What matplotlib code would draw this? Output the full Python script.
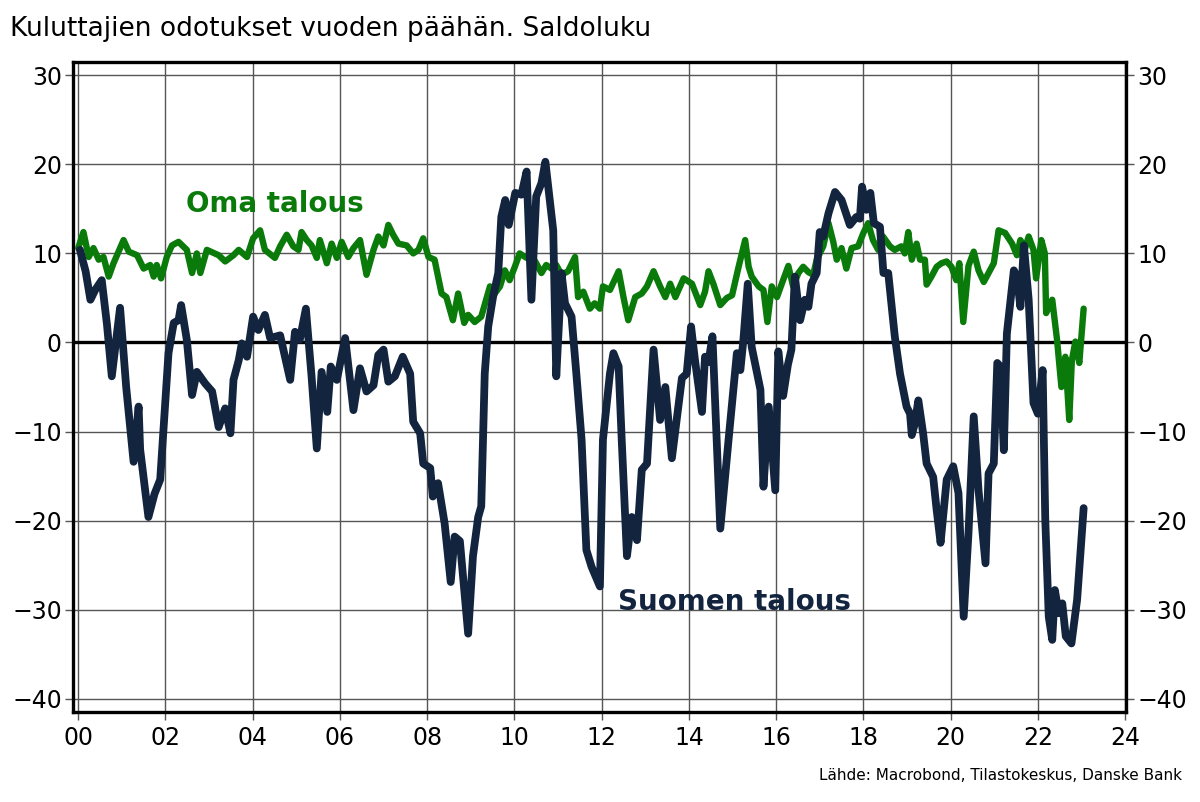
import numpy as np
import matplotlib.pyplot as plt

# Suomen talous (navy), decimal year / balance
suomi_t = [0.04, 0.17, 0.28, 0.39, 0.54, 0.66, 0.77, 0.96, 1.10, 1.27, 1.385, 1.42, 1.61, 1.75, 1.88,
           2.07, 2.19, 2.30, 2.36, 2.49, 2.61, 2.72, 2.91, 3.07, 3.22, 3.37, 3.49, 3.56, 3.68, 3.75, 3.87,
           4.01, 4.13, 4.28, 4.40, 4.63, 4.86, 4.97, 5.08, 5.22, 5.35, 5.47, 5.58, 5.71, 5.79, 5.93,
           6.12, 6.31, 6.46, 6.61, 6.77, 6.88, 7.00, 7.11, 7.26, 7.44, 7.61, 7.68, 7.84, 7.91,
           8.07, 8.13, 8.25, 8.40, 8.54, 8.63, 8.75, 8.94, 9.05, 9.17, 9.24, 9.32, 9.40, 9.51, 9.63,
           9.70, 9.79, 9.87, 10.02, 10.16, 10.28, 10.39, 10.50, 10.62, 10.71, 10.89, 10.96, 11.08,
           11.16, 11.31, 11.42, 11.54, 11.65, 11.77, 11.96, 12.03, 12.11, 12.19, 12.27, 12.39, 12.46,
           12.58, 12.69, 12.81, 12.92, 13.04, 13.19, 13.34, 13.46, 13.61, 13.72, 13.84, 13.95, 14.05,
           14.14, 14.30, 14.37, 14.45, 14.54, 14.72, 14.91, 15.10, 15.18, 15.25, 15.35, 15.44, 15.64,
           15.71, 15.83, 15.98, 16.05, 16.16, 16.27, 16.35, 16.43, 16.55, 16.66, 16.74, 16.81, 16.93,
           17.00, 17.08, 17.20, 17.35, 17.50, 17.69, 17.84, 17.92, 17.97, 18.07, 18.16, 18.24, 18.38,
           18.46, 18.57, 18.72, 18.84, 18.99, 19.07, 19.11, 19.18, 19.26, 19.37, 19.45, 19.60, 19.68,
           19.77, 19.91, 20.06, 20.18, 20.30, 20.41, 20.53, 20.64, 20.80, 20.87, 20.99, 21.07, 21.14,
           21.22, 21.29, 21.45, 21.52, 21.60, 21.68, 21.79, 21.90, 22.00, 22.11, 22.17, 22.25, 22.33,
           22.39, 22.48, 22.56, 22.64, 22.77, 22.90, 23.05]
suomi_v = [10.4, 8.0, 4.8, 5.9, 7.0, 2.0, -3.8, 3.9, -5.0, -13.4, -7.2, -12.0, -19.6, -17.0, -15.4,
           -1.2, 2.2, 2.5, 4.2, 0.3, -5.9, -3.3, -4.6, -5.5, -9.5, -7.4, -10.2, -4.2, -2.0, -0.1, -1.6,
           2.9, 1.4, 3.1, 0.5, 0.8, -4.2, 1.2, 0.3, 3.8, -3.8, -11.9, -3.3, -7.8, -2.7, -4.2,
           0.5, -7.6, -2.9, -5.5, -4.8, -1.4, -0.8, -4.4, -3.8, -1.6, -3.5, -8.9, -10.2, -13.6,
           -14.1, -17.3, -15.8, -20.3, -26.9, -21.8, -22.3, -32.7, -24.0, -19.6, -18.4, -3.5, 1.8, 5.1, 7.8,
           14.1, 16.0, 13.2, 16.8, 16.6, 19.2, 4.8, 16.4, 17.9, 20.3, 12.6, -3.8, 7.8,
           4.4, 2.9, -3.5, -10.9, -23.3, -25.2, -27.4, -10.9, -7.2, -3.5, -1.2, -2.7, -10.9,
           -24.0, -19.6, -22.2, -14.3, -13.6, -0.8, -8.7, -5.0, -13.0, -8.7, -4.0, -3.5, 1.8,
           -2.0, -7.8, -1.6, -2.2, 0.7, -20.9, -10.9, -1.2, -3.1, 0.3, 6.6, -0.5, -5.3,
           -16.2, -7.2, -16.6, -1.0, -6.0, -2.5, -0.8, 7.4, 2.5, 4.8, 4.0, 6.6, 7.8,
           12.4, 11.9, 14.5, 16.9, 16.0, 13.2, 14.1, 13.9, 17.5, 14.9, 16.8, 13.4, 13.0,
           7.8, 7.8, 0.7, -3.5, -7.2, -8.0, -10.4, -9.1, -6.5, -10.2, -13.6, -15.1, -18.8,
           -22.5, -15.4, -13.9, -16.9, -30.8, -21.4, -8.3, -16.6, -24.8, -14.7, -13.6, -2.3, -2.7,
           -12.1, 1.0, 8.1, 7.4, 4.0, 10.9, 4.8, -6.8, -8.0, -3.1, -19.9, -30.8, -33.4,
           -27.8, -30.4, -29.3, -33.0, -33.8, -28.9, -18.6]

# Oma talous (green)
oma_t = [0.00, 0.12, 0.24, 0.35, 0.47, 0.58, 0.70, 0.81, 1.04, 1.16, 1.35, 1.50, 1.65, 1.73, 1.80, 1.90,
         2.03, 2.15, 2.30, 2.49, 2.61, 2.72, 2.80, 2.95, 3.22, 3.37, 3.56, 3.68, 3.87, 4.01, 4.17,
         4.28, 4.51, 4.63, 4.78, 4.93, 5.05, 5.12, 5.24, 5.35, 5.47, 5.54, 5.70, 5.81, 5.93, 6.04,
         6.19, 6.31, 6.46, 6.61, 6.77, 6.88, 7.00, 7.11, 7.22, 7.34, 7.53, 7.68, 7.80, 7.91, 8.03,
         8.17, 8.33, 8.44, 8.59, 8.71, 8.85, 8.94, 9.09, 9.24, 9.44, 9.55, 9.67, 9.78, 9.89, 10.01,
         10.12, 10.28, 10.39, 10.50, 10.62, 10.73, 10.85, 10.96, 11.08, 11.23, 11.39, 11.46, 11.58,
         11.73, 11.84, 11.96, 12.03, 12.19, 12.39, 12.50, 12.61, 12.77, 12.92, 13.04, 13.19, 13.34,
         13.46, 13.57, 13.69, 13.88, 14.07, 14.26, 14.37, 14.45, 14.56, 14.72, 14.87, 14.99, 15.14,
         15.29, 15.37, 15.44, 15.60, 15.71, 15.80, 15.90, 16.02, 16.13, 16.28, 16.39, 16.51, 16.62,
         16.74, 16.85, 16.93, 17.08, 17.20, 17.31, 17.39, 17.50, 17.61, 17.73, 17.88, 18.00, 18.11,
         18.22, 18.34, 18.45, 18.61, 18.72, 18.87, 18.95, 19.03, 19.11, 19.22, 19.30, 19.41, 19.45,
         19.56, 19.68, 19.79, 19.91, 20.02, 20.13, 20.20, 20.29, 20.41, 20.53, 20.64, 20.76, 20.87,
         20.99, 21.10, 21.25, 21.41, 21.52, 21.60, 21.71, 21.79, 21.90, 21.96, 22.08, 22.16, 22.19,
         22.33, 22.44, 22.54, 22.63, 22.72, 22.78, 22.86, 22.95, 23.05]
oma_v = [10.6, 12.4, 9.6, 10.6, 9.3, 9.6, 7.4, 8.9, 11.5, 10.2, 9.8, 8.3, 8.7, 7.4, 8.7, 7.2,
         9.6, 10.9, 11.3, 10.4, 7.8, 10.0, 7.8, 10.4, 9.8, 9.1, 9.8, 10.4, 9.6, 11.7, 12.6,
         10.4, 9.5, 10.8, 12.1, 10.8, 10.4, 12.4, 11.5, 10.9, 9.5, 11.5, 8.9, 11.1, 9.5, 11.3,
         9.6, 10.6, 11.5, 7.6, 10.4, 11.9, 10.9, 13.2, 12.1, 11.1, 10.9, 10.0, 10.4, 11.7, 9.6,
         9.3, 5.5, 5.1, 2.5, 5.5, 2.2, 3.1, 2.3, 2.9, 6.3, 5.5, 6.3, 8.1, 7.0, 8.5,
         10.0, 9.5, 9.8, 8.9, 7.8, 8.7, 8.3, 8.7, 7.6, 8.0, 9.6, 5.1, 5.7,
         3.8, 4.4, 3.8, 6.3, 5.9, 8.0, 5.1, 2.5, 5.1, 5.5, 6.3, 8.0, 6.3,
         5.1, 6.6, 5.1, 7.2, 6.6, 4.2, 5.7, 8.0, 6.6, 4.2, 5.0, 5.3, 8.5,
         11.5, 8.5, 7.4, 6.3, 5.9, 2.3, 6.3, 5.1, 6.6, 8.6, 6.3, 7.8, 8.5,
         7.9, 7.6, 9.3, 10.8, 13.4, 11.3, 9.3, 10.6, 8.3, 10.6, 10.8, 12.3, 13.4,
         11.5, 10.4, 11.9, 10.8, 10.4, 10.8, 10.0, 12.4, 9.3, 11.1, 9.3, 9.3, 6.5,
         7.4, 8.5, 8.9, 9.1, 8.5, 7.0, 8.9, 2.3, 8.6, 10.2, 8.1, 6.8, 7.8,
         8.9, 12.6, 12.3, 11.1, 9.8, 11.5, 10.6, 11.9, 10.4, 7.2, 11.5, 10.0, 3.3,
         4.8, 0.3, -5.0, -1.6, -8.7, -2.0, 0.1, -2.3, 3.8]

yticks = [-40, -30, -20, -10, 0, 10, 20, 30]
xticks = list(range(0, 25, 2))
xlabels = ['%02d' % x for x in xticks]

NAVY = '#13243f'
GREEN = '#0a7a0a'
GRID = '#555555'

fig = plt.figure(figsize=(12, 8.02), dpi=100)
ax = fig.add_axes([0.0608, 0.1122, 0.8775, 0.8105])

ax.set_xlim(-0.12, 24.02)
ax.set_ylim(-41.5, 31.5)
ax.set_xticks(xticks)
ax.set_xticklabels(xlabels)
ax.set_yticks(yticks)
ax.grid(True, color=GRID, lw=1.0)
ax.set_axisbelow(True)
ax.axhline(0, color='black', lw=2.4, zorder=2)

ax.plot(oma_t, oma_v, color=GREEN, lw=4.6, solid_joinstyle='round', solid_capstyle='round', zorder=3)
ax.plot(suomi_t, suomi_v, color=NAVY, lw=5.6, solid_joinstyle='round', solid_capstyle='round', zorder=4)

for s in ax.spines.values():
    s.set_linewidth(2.4)
    s.set_color('black')

ax.tick_params(axis='both', direction='out', length=6, width=1.0, color=GRID, labelsize=17)
ax.tick_params(axis='y', right=True, labelright=True, pad=2)
ax.tick_params(axis='x', pad=4)

ax.text(4.5, 15.5, 'Oma talous', color=GREEN, fontsize=20, fontweight='bold', ha='center', va='center')
ax.text(15.05, -29.2, 'Suomen talous', color=NAVY, fontsize=20, fontweight='bold', ha='center', va='center')

fig.text(10/1200, 1 - 29/802, 'Kuluttajien odotukset vuoden päähän. Saldoluku',
         fontsize=19, family=['Liberation Sans Narrow', 'DejaVu Sans'], va='center', ha='left')
fig.text(1182/1200, 1 - 776/802, 'Lähde: Macrobond, Tilastokeskus, Danske Bank',
         fontsize=11, va='center', ha='right')

fig.savefig('out.png', dpi=100)
